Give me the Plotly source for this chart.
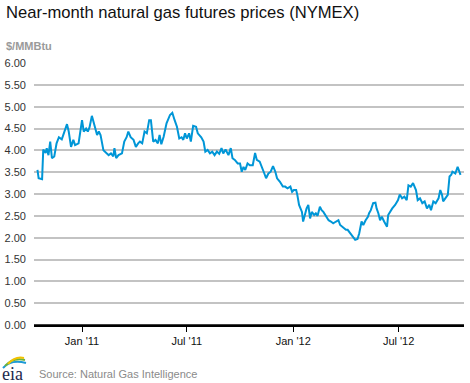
import plotly.graph_objects as go

title_text = "Near-month natural gas futures prices (NYMEX)"
unit_label = "$/MMBtu"
source_text = "Source: Natural Gas Intelligence"

dates = [
    "2010-10-16", "2010-10-18", "2010-10-24", "2010-10-26", "2010-10-30", "2010-11-01",
    "2010-11-04", "2010-11-07", "2010-11-10", "2010-11-14", "2010-11-18", "2010-11-22",
    "2010-11-27", "2010-12-02", "2010-12-06", "2010-12-09", "2010-12-13", "2010-12-17",
    "2010-12-20", "2010-12-26", "2011-01-01", "2011-01-04", "2011-01-08", "2011-01-11",
    "2011-01-14", "2011-01-18", "2011-01-22", "2011-01-27", "2011-01-30", "2011-02-02",
    "2011-02-07", "2011-02-12", "2011-02-16", "2011-02-20", "2011-02-24", "2011-02-26",
    "2011-03-01", "2011-03-05", "2011-03-11", "2011-03-15", "2011-03-19", "2011-03-22",
    "2011-03-26", "2011-03-31", "2011-04-04", "2011-04-08", "2011-04-11", "2011-04-15",
    "2011-04-19", "2011-04-23", "2011-04-27", "2011-04-30", "2011-05-04", "2011-05-08",
    "2011-05-12", "2011-05-15", "2011-05-18", "2011-05-22", "2011-05-27", "2011-06-02",
    "2011-06-06", "2011-06-10", "2011-06-14", "2011-06-18", "2011-06-22", "2011-06-25",
    "2011-06-28", "2011-07-01", "2011-07-05", "2011-07-08", "2011-07-12", "2011-07-17",
    "2011-07-20", "2011-07-26", "2011-07-30", "2011-08-02", "2011-08-06", "2011-08-10",
    "2011-08-14", "2011-08-18", "2011-08-22", "2011-08-26", "2011-08-30", "2011-09-02",
    "2011-09-06", "2011-09-11", "2011-09-15", "2011-09-18", "2011-09-22", "2011-09-27",
    "2011-10-01", "2011-10-04", "2011-10-07", "2011-10-10", "2011-10-14", "2011-10-18",
    "2011-10-23", "2011-10-27", "2011-10-30", "2011-11-04", "2011-11-08", "2011-11-12",
    "2011-11-15", "2011-11-19", "2011-11-23", "2011-11-27", "2011-12-01", "2011-12-04",
    "2011-12-09", "2011-12-14", "2011-12-18", "2011-12-22", "2011-12-27", "2011-12-30",
    "2012-01-02", "2012-01-06", "2012-01-08", "2012-01-11", "2012-01-16", "2012-01-18",
    "2012-01-21", "2012-01-24", "2012-01-27", "2012-01-30", "2012-02-02", "2012-02-06",
    "2012-02-09", "2012-02-12", "2012-02-16", "2012-02-19", "2012-02-22", "2012-02-27",
    "2012-03-02", "2012-03-06", "2012-03-10", "2012-03-15", "2012-03-19", "2012-03-22",
    "2012-03-25", "2012-03-29", "2012-04-01", "2012-04-04", "2012-04-08", "2012-04-12",
    "2012-04-17", "2012-04-21", "2012-04-24", "2012-04-28", "2012-05-01", "2012-05-05",
    "2012-05-09", "2012-05-11", "2012-05-14", "2012-05-18", "2012-05-22", "2012-05-24",
    "2012-05-27", "2012-05-30", "2012-06-02", "2012-06-06", "2012-06-11", "2012-06-13",
    "2012-06-16", "2012-06-20", "2012-06-25", "2012-06-30", "2012-07-03", "2012-07-07",
    "2012-07-11", "2012-07-15", "2012-07-18", "2012-07-22", "2012-07-26", "2012-07-31",
    "2012-08-03", "2012-08-07", "2012-08-11", "2012-08-15", "2012-08-19", "2012-08-23",
    "2012-08-26", "2012-08-30", "2012-09-03", "2012-09-08", "2012-09-11", "2012-09-14",
    "2012-09-16", "2012-09-21", "2012-09-24", "2012-09-27", "2012-09-30", "2012-10-02",
    "2012-10-07", "2012-10-11", "2012-10-14", "2012-10-16",
]

prices = [
    3.55, 3.36, 3.34, 4.02, 3.94, 4.05,
    3.89, 4.20, 3.82, 3.86, 4.16, 4.30,
    4.25, 4.43, 4.60, 4.43, 4.08, 4.24,
    4.12, 4.16, 4.69, 4.43, 4.50, 4.43,
    4.53, 4.79, 4.58, 4.35, 4.43, 4.35,
    4.00, 3.93, 3.89, 3.93, 3.86, 4.05,
    3.82, 3.89, 3.93, 4.20, 4.30, 4.43,
    4.30, 4.24, 4.08, 4.16, 4.20, 4.16,
    4.43, 4.39, 4.69, 4.69, 4.20, 4.24,
    4.16, 4.35, 4.14, 4.31, 4.62, 4.81,
    4.86, 4.69, 4.54, 4.27, 4.30, 4.24,
    4.39, 4.27, 4.39, 4.20, 4.56, 4.54,
    4.39, 4.30, 4.20, 3.97, 4.01, 3.93,
    3.97, 3.89, 3.97, 3.92, 4.05, 3.93,
    4.02, 3.89, 4.05, 3.82, 3.78, 3.70,
    3.70, 3.51, 3.62, 3.55, 3.70, 3.66,
    3.66, 3.94, 3.78, 3.74, 3.62, 3.47,
    3.36, 3.47, 3.51, 3.64, 3.51, 3.36,
    3.28, 3.17, 3.17, 3.13, 3.17, 3.05,
    3.09, 3.09, 2.98, 2.75, 2.59, 2.37,
    2.52, 2.67, 2.75, 2.44, 2.59, 2.52,
    2.56, 2.50, 2.71, 2.63, 2.59, 2.48,
    2.40, 2.37, 2.33, 2.37, 2.40, 2.29,
    2.25, 2.21, 2.18, 2.18, 2.10, 2.03,
    1.95, 1.97, 2.10, 2.37, 2.29, 2.40,
    2.48, 2.56, 2.63, 2.79, 2.80, 2.67,
    2.56, 2.40, 2.48, 2.37, 2.25, 2.52,
    2.60, 2.67, 2.75, 2.86, 2.99, 2.90,
    2.94, 2.86, 3.20, 3.17, 3.25, 3.09,
    2.86, 2.90, 2.79, 2.83, 2.67, 2.75,
    2.63, 2.83, 2.79, 2.90, 3.09, 2.98,
    2.83, 2.94, 2.98, 3.40, 3.44, 3.51,
    3.47, 3.62, 3.51, 3.44,
]

x_tick_vals = ["2011-01-01", "2011-07-01", "2012-01-01", "2012-07-01"]
x_tick_text = ["Jan '11", "Jul '11", "Jan '12", "Jul '12"]
y_tick_vals = [0, 0.5, 1, 1.5, 2, 2.5, 3, 3.5, 4, 4.5, 5, 5.5, 6]
x_range = ["2010-10-10", "2012-10-22"]

FONT = "Liberation Sans, Arial, sans-serif"
W, H = 470, 383
L, R, T, B = 34, 6, 63, 58

fig = go.Figure()
fig.add_trace(go.Scatter(
    x=dates, y=prices, mode="lines",
    line=dict(color="#0096d7", width=2),
    hoverinfo="x+y", showlegend=False,
))

fig.update_layout(
    width=W, height=H,
    margin=dict(l=L, r=R, t=T, b=B),
    paper_bgcolor="white", plot_bgcolor="white",
    font=dict(family=FONT, size=11, color="#333333"),
    xaxis=dict(
        type="date", range=x_range,
        tickvals=x_tick_vals, ticktext=x_tick_text,
        ticks="outside", ticklen=5, tickcolor="#000000", tickwidth=1,
        showgrid=False, showline=True, linecolor="#000000", linewidth=1.5,
        tickfont=dict(family=FONT, size=11, color="#111111"),
        zeroline=False,
    ),
    yaxis=dict(
        range=[0, 6], tickvals=y_tick_vals, tickformat=".2f",
        showgrid=True, gridcolor="#c3c3c3", gridwidth=1.5,
        zeroline=False, showline=False, ticks="",
        ticklabelstandoff=7,
        tickfont=dict(family=FONT, size=11, color="#333333"),
    ),
)

fig.add_shape(type="line", xref="paper", yref="y", x0=0, x1=1, y0=0, y1=0,
              line=dict(color="#000000", width=1.5))

def px(xp, yp):
    return (xp - L) / (W - L - R), (H - B - yp) / (H - T - B)

fig.add_annotation(text=title_text, xref="paper", yref="paper",
                   x=px(4, 0)[0], y=px(0, 12)[1], xanchor="left", yanchor="middle",
                   showarrow=False, font=dict(family=FONT, size=16.6, color="#111111"))
fig.add_annotation(text="<b>" + unit_label + "</b>", xref="paper", yref="paper",
                   x=px(4, 0)[0], y=px(0, 46)[1], xanchor="left", yanchor="middle",
                   showarrow=False, font=dict(family=FONT, size=11, color="#9a9a9a"))
fig.add_annotation(text=source_text, xref="paper", yref="paper",
                   x=px(37, 0)[0], y=px(0, 374)[1], xanchor="left", yanchor="middle",
                   showarrow=False, font=dict(family=FONT, size=11, color="#8a8a8a"))

fig.add_annotation(text="eia", xref="paper", yref="paper",
                   x=px(0, 0)[0], y=px(0, 374)[1], xanchor="left", yanchor="middle",
                   showarrow=False,
                   font=dict(family="Liberation Serif, DejaVu Serif, serif", size=18, color="#1d2a4d"))

def arc(p0, c, p1):
    a = px(*p0); b = px(*c); d = px(*p1)
    return f"M {a[0]},{a[1]} Q {b[0]},{b[1]} {d[0]},{d[1]}"

for (p0, c, p1, col) in [
    ((3, 368), (11, 359), (26, 363), "#1e9ad6"),
    ((5, 366), (13, 357), (25, 360), "#6cb33f"),
    ((8, 364), (15, 356), (24, 358), "#f2c200"),
]:
    fig.add_shape(type="path", xref="paper", yref="paper", path=arc(p0, c, p1),
                  line=dict(color=col, width=2))

fig.write_html("out.html", config={"displayModeBar": False},
               post_script="document.body.style.margin='0';document.body.style.padding='0';")
